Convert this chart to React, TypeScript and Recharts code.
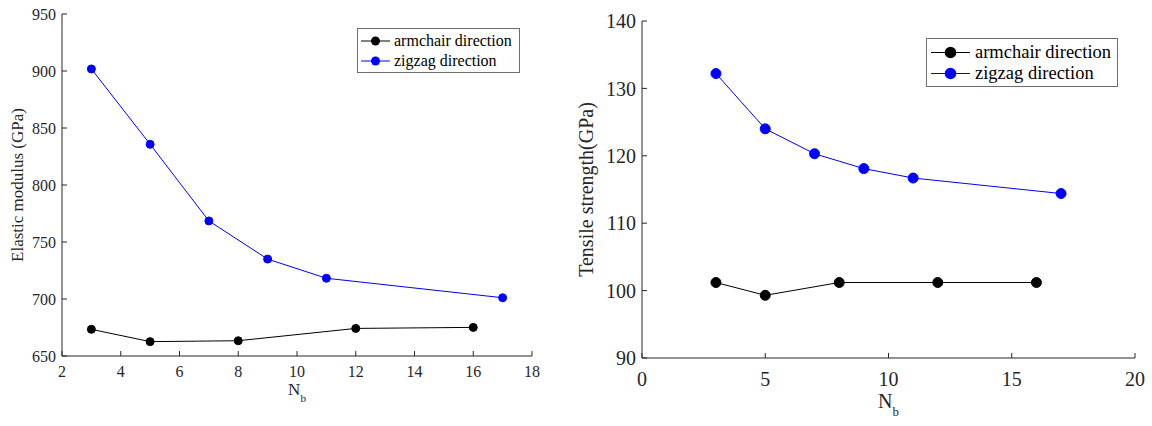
import { LineChart, Line, XAxis, YAxis, Legend } from "recharts";

const FONT = '"Times New Roman", "Liberation Serif", "DejaVu Serif", serif';
const AXIS = "#262626";

// Elastic modulus (GPa) vs N_b
const armchairModulusN = [3, 5, 8, 12, 16];
const armchairModulus = [673.4, 662.6, 663.4, 674.2, 675.1];
const zigzagModulusN = [3, 5, 7, 9, 11, 17];
const zigzagModulus = [901.8, 835.7, 768.5, 735, 718.2, 701.1];

// Tensile strength (GPa) vs N_b
const armchairStrengthN = [3, 5, 8, 12, 16];
const armchairStrength = [101.2, 99.3, 101.2, 101.2, 101.2];
const zigzagStrengthN = [3, 5, 7, 9, 11, 17];
const zigzagStrength = [132.2, 124, 120.3, 118.1, 116.7, 114.4];

const modulusXTicks = [2, 4, 6, 8, 10, 12, 14, 16, 18];
const modulusYTicks = [650, 700, 750, 800, 850, 900, 950];
const strengthXTicks = [0, 5, 10, 15, 20];
const strengthYTicks = [90, 100, 110, 120, 130, 140];

const toPoints = (ns: number[], vs: number[]) => ns.map((n, i) => ({ n, v: vs[i] }));

function YTitle({ viewBox, text, dx, fontSize }: any) {
  const cx = viewBox.x + viewBox.width + dx;
  const cy = viewBox.y + viewBox.height / 2;
  return (
    <text
      x={cx}
      y={cy}
      transform={`rotate(-90 ${cx} ${cy})`}
      textAnchor="middle"
      dominantBaseline="central"
      style={{ fontFamily: FONT }}
      fontSize={fontSize}
      fill={AXIS}
    >
      {text}
    </text>
  );
}

function NbTitle({ viewBox, dy, fontSize }: any) {
  const cx = viewBox.x + viewBox.width / 2;
  return (
    <text x={cx} y={viewBox.y + dy} textAnchor="middle" style={{ fontFamily: FONT }} fontSize={fontSize} fill={AXIS}>
      N
      <tspan dy={fontSize * 0.4} fontSize={fontSize * 0.65}>
        b
      </tspan>
    </text>
  );
}

function LegendBox({ payload, cfg }: any) {
  return (
    <div
      style={{
        width: cfg.width,
        boxSizing: "border-box",
        border: "1px solid #6e6e6e",
        background: "#fff",
        padding: `${cfg.padTop}px 0 ${cfg.padBottom}px 0`,
        fontFamily: FONT,
        fontSize: cfg.fontSize,
        color: "#000",
      }}
    >
      {(payload || []).map((entry: any) => (
        <div key={entry.value} style={{ display: "flex", alignItems: "center", height: cfg.rowH }}>
          <svg width={cfg.lineW} height={cfg.rowH} style={{ marginLeft: cfg.lineLeft, flex: "none" }}>
            <line x1={0} x2={cfg.lineW} y1={cfg.rowH / 2} y2={cfg.rowH / 2} stroke={entry.color} strokeWidth={1} />
            <circle cx={cfg.lineW / 2} cy={cfg.rowH / 2} r={cfg.r} fill={entry.color} />
          </svg>
          <span style={{ marginLeft: cfg.textGap, lineHeight: 1, whiteSpace: "nowrap" }}>{entry.value}</span>
        </div>
      ))}
    </div>
  );
}

function Panel({ p }: any) {
  const tick = { fill: AXIS, fontSize: p.tickFont, style: { fontFamily: FONT } };
  const line = { stroke: AXIS, strokeWidth: 1 };
  const blank = () => "";
  return (
    <LineChart width={p.width} height={426} margin={p.margin} style={{ fontFamily: FONT }}>
      <XAxis
        xAxisId="b"
        type="number"
        dataKey="n"
        domain={p.xDomain}
        ticks={p.xTicks}
        allowDuplicatedCategory={false}
        height={30}
        tick={tick}
        tickSize={-5}
        tickMargin={p.xTickMargin}
        axisLine={line}
        tickLine={line}
        label={<NbTitle dy={p.nbDy} fontSize={p.titleFont} />}
      />
      <XAxis
        xAxisId="t"
        orientation="top"
        type="number"
        dataKey="n"
        domain={p.xDomain}
        ticks={p.xTicks}
        height={0}
        tickFormatter={blank}
        tickSize={-5}
        axisLine={line}
        tickLine={line}
      />
      <YAxis
        yAxisId="l"
        domain={p.yDomain}
        ticks={p.yTicks}
        width={p.yWidth}
        tick={tick}
        tickSize={-5}
        tickMargin={11}
        axisLine={line}
        tickLine={line}
        label={<YTitle text={p.yTitle} dx={p.titleDx} fontSize={p.titleFont} />}
      />
      <YAxis
        yAxisId="r"
        orientation="right"
        domain={p.yDomain}
        ticks={p.yTicks}
        width={0}
        tickFormatter={blank}
        tickSize={-5}
        axisLine={line}
        tickLine={line}
      />
      <Legend
        layout="vertical"
        align="center"
        verticalAlign="middle"
        wrapperStyle={{ left: p.legend.left, top: p.legend.top, width: p.legend.width }}
        content={(props: any) => <LegendBox payload={props.payload} cfg={p.legend} />}
      />
      <Line
        xAxisId="b"
        yAxisId="l"
        data={p.armchair}
        dataKey="v"
        name="armchair direction"
        stroke="#000000"
        strokeWidth={1}
        dot={{ r: p.dotR, fill: "#000000", stroke: "#000000", strokeWidth: 1 }}
        activeDot={false}
        isAnimationActive={false}
      />
      <Line
        xAxisId="b"
        yAxisId="l"
        data={p.zigzag}
        dataKey="v"
        name="zigzag direction"
        stroke="#0000ff"
        strokeWidth={1}
        dot={{ r: p.dotR, fill: "#0000ff", stroke: "#0000ff", strokeWidth: 1 }}
        activeDot={false}
        isAnimationActive={false}
      />
    </LineChart>
  );
}

const modulusPanel = {
  width: 560,
  margin: { top: 14, right: 28, left: 22, bottom: 40 },
  yWidth: 40,
  xDomain: [2, 18],
  xTicks: modulusXTicks,
  yDomain: [650, 950],
  yTicks: modulusYTicks,
  tickFont: 16,
  titleFont: 17,
  xTickMargin: 15,
  nbDy: 39,
  titleDx: -45,
  yTitle: "Elastic modulus (GPa)",
  dotR: 4,
  armchair: toPoints(armchairModulusN, armchairModulus),
  zigzag: toPoints(zigzagModulusN, zigzagModulus),
  legend: {
    left: 357, top: 28, width: 163, padTop: 2, padBottom: 1, rowH: 20,
    lineLeft: 3, lineW: 29, textGap: 4, r: 4.5, fontSize: 16,
  },
};

const strengthPanel = {
  width: 582,
  margin: { top: 21, right: 17, left: 22, bottom: 38 },
  yWidth: 50,
  xDomain: [0, 20],
  xTicks: strengthXTicks,
  yDomain: [90, 140],
  yTicks: strengthYTicks,
  tickFont: 20,
  titleFont: 20,
  xTickMargin: 19,
  nbDy: 50,
  titleDx: -56,
  yTitle: "Tensile strength(GPa)",
  dotR: 5,
  armchair: toPoints(armchairStrengthN, armchairStrength),
  zigzag: toPoints(zigzagStrengthN, zigzagStrength),
  legend: {
    left: 356, top: 38, width: 192, padTop: 3, padBottom: 2, rowH: 21,
    lineLeft: 4, lineW: 39, textGap: 5, r: 5.8, fontSize: 18.5,
  },
};

export default function App() {
  return (
    <div style={{ position: "absolute", left: 0, top: 0, width: 1152, height: 426, background: "#fff", fontFamily: FONT }}>
      <div style={{ position: "absolute", left: 0, top: 0 }}>
        <Panel p={modulusPanel} />
      </div>
      <div style={{ position: "absolute", left: 570, top: 0 }}>
        <Panel p={strengthPanel} />
      </div>
    </div>
  );
}
